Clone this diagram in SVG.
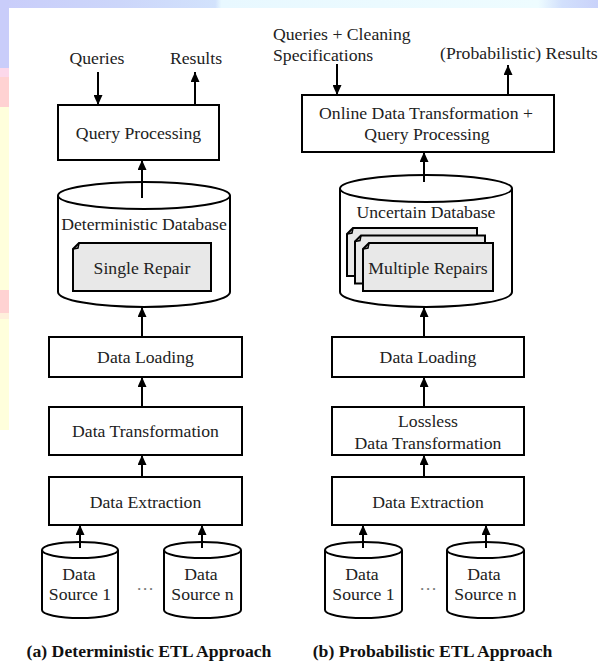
<svg xmlns="http://www.w3.org/2000/svg" width="598" height="662" viewBox="0 0 598 662">
<defs>
<linearGradient id="topg" x1="0" y1="0" x2="1" y2="0">
<stop offset="0" stop-color="#c9cdfa"/>
<stop offset="0.2" stop-color="#ccd6fa"/>
<stop offset="0.36" stop-color="#d2e2fc"/>
<stop offset="0.37" stop-color="#e8f8ff"/>
<stop offset="0.9" stop-color="#eefcff"/>
<stop offset="0.94" stop-color="#d2e0fc"/>
<stop offset="1" stop-color="#c9d2fa"/>
</linearGradient>
<marker id="ah" viewBox="0 0 10 9" refX="10" refY="4.5" markerWidth="10" markerHeight="9" markerUnits="userSpaceOnUse" orient="auto">
<path d="M0,0 L10,4.5 L0,9 z" fill="#000"/>
</marker>
</defs>
<style>
.bx{fill:#fff;stroke:#000;stroke-width:2}
.sh{fill:#e8e8e8;stroke:#000;stroke-width:2}
.t{font-family:"Liberation Serif","Times New Roman",serif;font-size:17.7px;fill:#222;text-anchor:middle}
.c{font-family:"Liberation Serif","Times New Roman",serif;font-size:17.7px;font-weight:bold;fill:#111;text-anchor:middle}
.cn line{stroke:#000;stroke-width:2;marker-end:url(#ah)}
</style>
<rect width="598" height="662" fill="#fff"/>
<g id="background">
<rect x="0" y="0" width="598" height="8" fill="url(#topg)"/>
<rect x="0" y="0" width="9" height="68" fill="#c9cdfa"/>
<rect x="0" y="68" width="9" height="9" fill="#fcd8ea"/>
<rect x="0" y="77" width="9" height="30" fill="#ffd2d2"/>
<rect x="0" y="107" width="9" height="183" fill="#ffffdc"/>
<rect x="0" y="290" width="9" height="23" fill="#ffd2d2"/>
<rect x="0" y="313" width="9" height="6" fill="#fff0dc"/>
<rect x="0" y="319" width="9" height="111" fill="#ffffdc"/>
</g>

<!-- Left: Deterministic ETL -->
<text class="t" x="97" y="64">Queries</text>
<text class="t" x="196" y="64">Results</text>
<g id="qp-a"><rect class="bx" x="58" y="105" width="161" height="55"/><text class="t" x="138.5" y="138.5">Query Processing</text></g>
<g id="db-a">
<path class="bx" d="M58,195.5 L58,292 A86,15 0 0 0 230,292 L230,195.5"/>
<ellipse class="bx" cx="144" cy="195.5" rx="86" ry="13.5"/>
<text class="t" x="144" y="230">Deterministic Database</text>
<path class="sh" d="M73,249 L79,243 L211,243 L211,291 L73,291 Z"/>
<path d="M73,249 L78,248 L79,243" fill="none" stroke="#000" stroke-width="1.5"/>
<text class="t" x="142" y="274">Single Repair</text>
</g>
<g id="load-a"><rect class="bx" x="49" y="337" width="193" height="40"/><text class="t" x="145.5" y="363">Data Loading</text></g>
<g id="trans-a"><rect class="bx" x="49" y="407" width="193" height="48"/><text class="t" x="145.5" y="437">Data Transformation</text></g>
<g id="extr-a"><rect class="bx" x="49" y="477" width="193" height="48"/><text class="t" x="145.5" y="508">Data Extraction</text></g>
<g id="src1-a">
<path class="bx" d="M42,550 L42,610 A38,8 0 0 0 118,610 L118,550"/>
<ellipse class="bx" cx="80" cy="550" rx="38" ry="8"/>
<text class="t" x="79" y="579.5">Data</text><text class="t" x="80" y="600">Source 1</text>
</g>
<g id="srcn-a">
<path class="bx" d="M164,550 L164,610 A38.5,8 0 0 0 241,610 L241,550"/>
<ellipse class="bx" cx="202.5" cy="550" rx="38.5" ry="8"/>
<text class="t" x="201" y="579.5">Data</text><text class="t" x="202.5" y="600">Source n</text>
</g>
<text class="t" x="145" y="590" style="fill:#777">…</text>
<text class="c" x="149" y="657">(a) Deterministic ETL Approach</text>

<!-- Right: Probabilistic ETL -->
<text class="t" x="273" y="40" style="text-anchor:start">Queries + Cleaning</text>
<text class="t" x="273" y="60.5" style="text-anchor:start">Specifications</text>
<text class="t" x="440" y="59" style="text-anchor:start">(Probabilistic) Results</text>
<g id="qp-b"><rect class="bx" x="302" y="95" width="252" height="57"/>
<text class="t" x="426" y="119">Online Data Transformation +</text>
<text class="t" x="427" y="140">Query Processing</text></g>
<g id="db-b">
<path class="bx" d="M340,188.5 L340,292 A86,15 0 0 0 512,292 L512,188.5"/>
<ellipse class="bx" cx="426" cy="188.5" rx="86" ry="13.5"/>
<text class="t" x="426" y="218">Uncertain Database</text>
<path class="sh" d="M347,234 L353,228 L477,228 L477,276 L347,276 Z"/>
<path d="M347,234 L352,233 L353,228" fill="none" stroke="#000" stroke-width="1.5"/>
<path class="sh" d="M355,241.5 L361,235.5 L485,235.5 L485,283.5 L355,283.5 Z"/>
<path d="M355,241.5 L360,240.5 L361,235.5" fill="none" stroke="#000" stroke-width="1.5"/>
<path class="sh" d="M363,249 L369,243 L493,243 L493,291 L363,291 Z"/>
<path d="M363,249 L368,248 L369,243" fill="none" stroke="#000" stroke-width="1.5"/>
<text class="t" x="428" y="274">Multiple Repairs</text>
</g>
<g id="load-b"><rect class="bx" x="332" y="337" width="192" height="40"/><text class="t" x="428" y="363">Data Loading</text></g>
<g id="trans-b"><rect class="bx" x="332" y="407" width="192" height="48"/>
<text class="t" x="428" y="427">Lossless</text><text class="t" x="428" y="449">Data Transformation</text></g>
<g id="extr-b"><rect class="bx" x="332" y="477" width="192" height="48"/><text class="t" x="428" y="508">Data Extraction</text></g>
<g id="src1-b">
<path class="bx" d="M325,550 L325,610 A38.5,8 0 0 0 402,610 L402,550"/>
<ellipse class="bx" cx="363.5" cy="550" rx="38.5" ry="8"/>
<text class="t" x="362" y="579.5">Data</text><text class="t" x="363.5" y="600">Source 1</text>
</g>
<g id="srcn-b">
<path class="bx" d="M447,550 L447,610 A38.5,8 0 0 0 524,610 L524,550"/>
<ellipse class="bx" cx="485.5" cy="550" rx="38.5" ry="8"/>
<text class="t" x="484" y="579.5">Data</text><text class="t" x="485.5" y="600">Source n</text>
</g>
<text class="t" x="428" y="590" style="fill:#777">…</text>
<text class="c" x="432.5" y="657">(b) Probabilistic ETL Approach</text>

<g id="connectors" class="cn">
<line x1="98" y1="72" x2="98" y2="105"/>
<line x1="195" y1="105" x2="195" y2="72"/>
<line x1="142" y1="198" x2="142" y2="160"/>
<line x1="142" y1="337" x2="142" y2="307"/>
<line x1="142" y1="407" x2="142" y2="377"/>
<line x1="142" y1="477" x2="142" y2="455"/>
<line x1="80" y1="548" x2="80" y2="525"/>
<line x1="202" y1="548" x2="202" y2="525"/>
<line x1="337" y1="64" x2="337" y2="95"/>
<line x1="508" y1="95" x2="508" y2="65"/>
<line x1="424" y1="182" x2="424" y2="152"/>
<line x1="424" y1="337" x2="424" y2="307"/>
<line x1="424" y1="407" x2="424" y2="377"/>
<line x1="424" y1="477" x2="424" y2="455"/>
<line x1="363" y1="548" x2="363" y2="525"/>
<line x1="486" y1="548" x2="486" y2="525"/>
</g>
</svg>
